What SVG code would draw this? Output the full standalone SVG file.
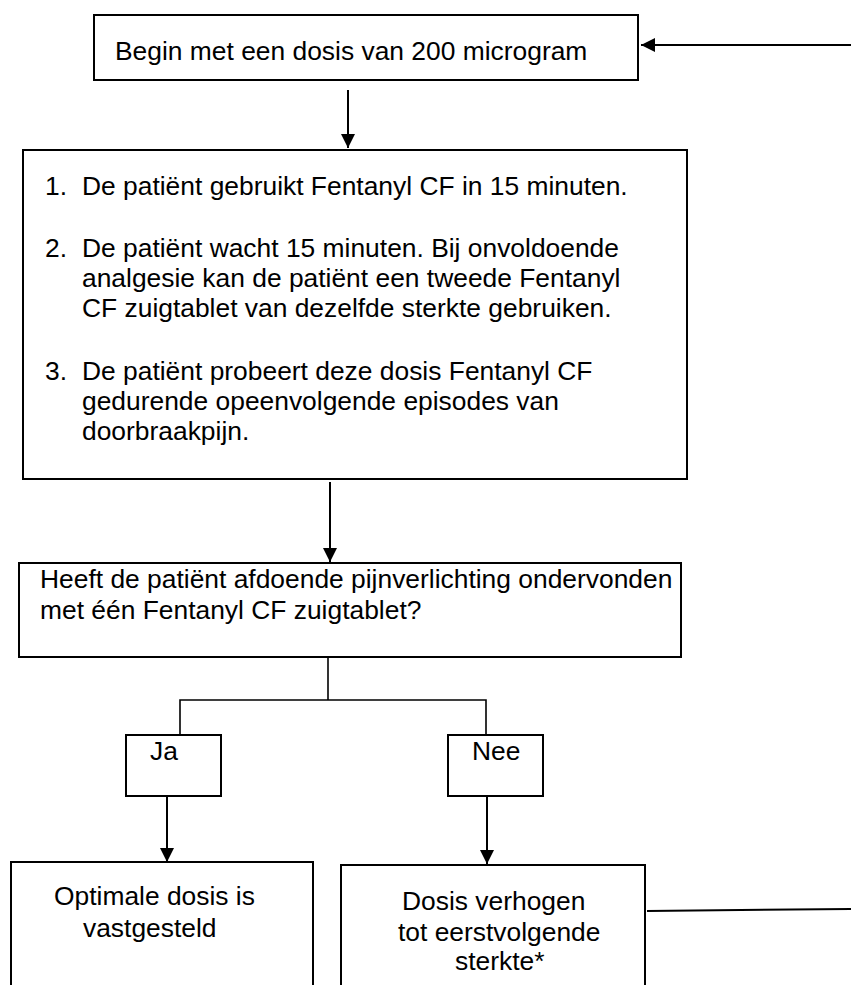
<svg xmlns="http://www.w3.org/2000/svg" width="851" height="985" viewBox="0 0 851 985">
<style>
.box{fill:#fff;stroke:#000;stroke-width:2}
.t{font-family:"Liberation Sans",Arial,sans-serif;font-size:26.4px;fill:#000}
.ln{fill:none;stroke:#000;stroke-width:1.6}
.ar{fill:none;stroke:#000;stroke-width:2;marker-end:url(#ah)}
</style>
<defs>
<marker id="ah" markerUnits="userSpaceOnUse" markerWidth="15" markerHeight="15" refX="14" refY="7" orient="auto" viewBox="0 0 15 15">
<path d="M0,0 L14,7 L0,14 z" fill="#000"/>
</marker>
</defs>
<rect width="851" height="985" fill="#fff"/>
<g id="connectors">
<line class="ar" x1="851" y1="45" x2="641" y2="45"/>
<line class="ar" x1="348" y1="90" x2="348" y2="148"/>
<line class="ar" x1="330" y1="482" x2="330" y2="562"/>
<polyline class="ln" points="328,657 328,700"/>
<polyline class="ln" points="180,735 180,700 486,700 486,735"/>
<line class="ar" x1="167" y1="796" x2="167" y2="862"/>
<line class="ar" x1="487" y1="796" x2="487" y2="864"/>
<line class="ln" x1="647" y1="911" x2="851" y2="909" style="stroke-width:2"/>
</g>
<g id="start">
<rect class="box" x="94" y="15" width="544" height="65"/>
<text class="t" x="115" y="60">Begin met een dosis van 200 microgram</text>
</g>
<g id="steps">
<rect class="box" x="23" y="150" width="664" height="329"/>
<text class="t" x="45" y="195">1.</text>
<text class="t" x="82" y="195">De patiënt gebruikt Fentanyl CF in 15 minuten.</text>
<text class="t" x="45" y="257">2.</text>
<text class="t" x="82" y="257">De patiënt wacht 15 minuten. Bij onvoldoende</text>
<text class="t" x="82" y="287">analgesie kan de patiënt een tweede Fentanyl</text>
<text class="t" x="82" y="317">CF zuigtablet van dezelfde sterkte gebruiken.</text>
<text class="t" x="45" y="380">3.</text>
<text class="t" x="82" y="380">De patiënt probeert deze dosis Fentanyl CF</text>
<text class="t" x="82" y="410">gedurende opeenvolgende episodes van</text>
<text class="t" x="82" y="440">doorbraakpijn.</text>
</g>
<g id="question">
<rect class="box" x="19" y="563" width="662" height="94"/>
<text class="t" x="40" y="588">Heeft de patiënt afdoende pijnverlichting ondervonden</text>
<text class="t" x="40" y="619">met één Fentanyl CF zuigtablet?</text>
</g>
<g id="ja">
<rect class="box" x="126" y="735" width="95" height="61"/>
<text class="t" x="150" y="760">Ja</text>
</g>
<g id="nee">
<rect class="box" x="448" y="735" width="95" height="61"/>
<text class="t" x="472" y="760">Nee</text>
</g>
<g id="optimal">
<rect class="box" x="11" y="862" width="302" height="140"/>
<text class="t" x="54" y="905">Optimale dosis is</text>
<text class="t" x="83" y="937">vastgesteld</text>
</g>
<g id="increase">
<rect class="box" x="341" y="865" width="304" height="140"/>
<text class="t" x="402" y="910">Dosis verhogen</text>
<text class="t" x="398" y="941">tot eerstvolgende</text>
<text class="t" x="455" y="970">sterkte*</text>
</g>
</svg>
